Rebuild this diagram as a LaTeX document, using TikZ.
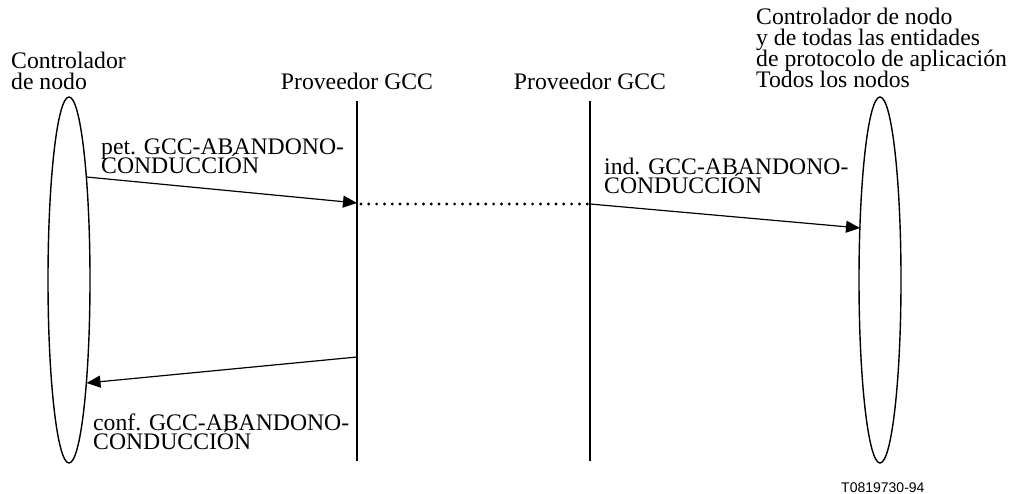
\documentclass[tikz,border=0pt]{standalone}
\usepackage{fontspec}
\setmainfont{Liberation Serif}
\newfontfamily\etiqfont{Liberation Sans}
\usetikzlibrary{positioning, shapes.geometric, arrows.meta}

\begin{document}
\begin{tikzpicture}[x=1pt, y=-1pt,
    texto/.style={inner sep=0pt, anchor=base west, align=left, font=\fontsize{23.7}{21}\selectfont\lineskiplimit-30pt\relax},
    prim/.style={texto, font=\fontsize{23.7}{19}\selectfont\lineskiplimit-30pt\relax},
    entidad/.style={ellipse, draw, line width=1.4pt, minimum width=42, minimum height=366, inner sep=0pt},
    vida/.style={line width=2.2pt},
    msg/.style={line width=1.2pt, -{Triangle[length=14pt, width=12pt]}},
    punteado/.style={line width=3.2pt, line cap=round, dash pattern=on 0pt off 7.8pt}]
        \useasboundingbox (0,0) rectangle (1009,494);
        \node[entidad] (ctrlA) at (69,280) {};
        \node[entidad] (ctrlB) at (880,280) {};
        \node[texto] (tA) at (11,90) {Controlador\\de nodo};
        \node[texto] (tB) at (756,88) {Controlador de nodo\\y de todas las entidades\\de protocolo de aplicación\\Todos los nodos};
        \node[texto, anchor=base] (gccA) at (357,90) {Proveedor GCC};
        \node[texto, anchor=base] (gccB) at (590,90) {Proveedor GCC};
        \coordinate (a1) at (357,101);
        \coordinate (a2) at (357,461);
        \coordinate (b1) at (590,101);
        \coordinate (b2) at (590,461);
        \draw[vida] (a1) -- (a2);
        \draw[vida] (b1) -- (b2);
        \coordinate (petS) at (86.5,177);
        \coordinate (petE) at (357,203);
        \coordinate (indS) at (590,204);
        \coordinate (indE) at (860,228);
        \coordinate (confS) at (357,357);
        \coordinate (confE) at (86.5,383);
        \draw[msg] (petS) -- (petE);
        \draw[punteado] (361,204) -- (588,204);
        \draw[msg] (indS) -- (indE);
        \draw[msg] (confS) -- (confE);
        \node[prim] (pet) at (101,174) {pet. GCC-ABANDONO-\\CONDUCCIÓN};
        \node[prim] (ind) at (604,194) {ind. GCC-ABANDONO-\\CONDUCCIÓN};
        \node[prim] (conf) at (93,449) {conf. GCC-ABANDONO-\\CONDUCCIÓN};
        \node[inner sep=0pt, anchor=base west, font=\etiqfont\fontsize{14}{16}\selectfont] (ref) at (841,492) {T0819730-94};
    \end{tikzpicture}
\end{document}
